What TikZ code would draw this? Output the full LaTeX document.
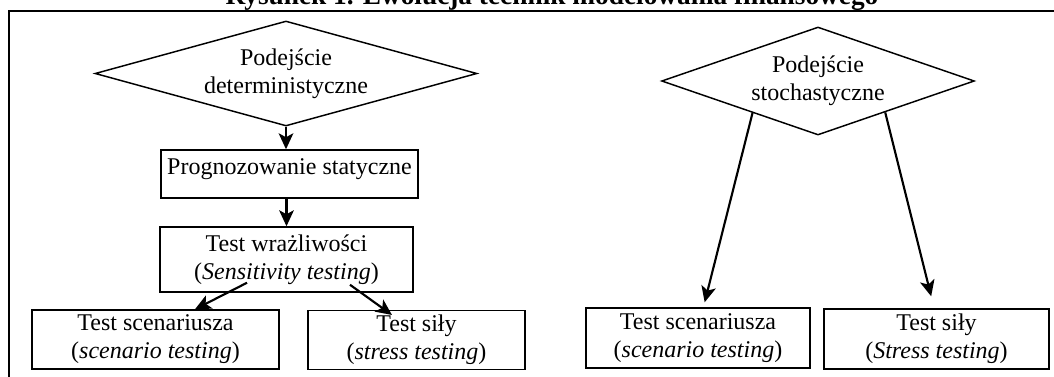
\documentclass[tikz,border=0pt]{standalone}
\usepackage{fontspec}
\setmainfont{Liberation Serif}
\usetikzlibrary{shapes.geometric,arrows.meta}

\begin{document}
\begin{tikzpicture}[x=0.75pt,y=-0.75pt,
    font=\fontsize{18}{21}\selectfont]

      \useasboundingbox (0,0) rectangle (1054,376);
      \clip (0,0) rectangle (1054,376);

      % title and frame
      \node[anchor=base, font=\fontsize{20.5}{24}\selectfont\bfseries] (0) at (552,4.5)
        {Rysunek 1. Ewolucja technik modelowania finansowego};
      \draw[line width=1.5pt] (9,11) rectangle (1070,400);

      \begin{scope}[every node/.style={diamond, draw, line width=1.1pt, inner sep=0pt, align=center, aspect=3.6}]
        \node[minimum width=286.5pt, minimum height=78.75pt] (1) at (286,73.5)
          {Podejście\\deterministyczne};
        \node[minimum width=232.5pt, minimum height=81pt] (2) at (818,81)
          {Podejście\\stochastyczne};
      \end{scope}

      \begin{scope}[every node/.style={rectangle, draw, line width=1.1pt, align=center}]
        \node[minimum width=192.75pt, text height=12pt, text depth=12pt, inner ysep=6pt] (3) at (289.5,174)
          {Prognozowanie statyczne};
        \node[minimum width=189.75pt, minimum height=48.75pt] (4) at (286.5,259.5)
          {Test wrażliwości\\(\textit{Sensitivity testing})};
        \node[minimum width=185.25pt, minimum height=44.25pt] (5) at (155.5,339.5)
          {Test scenariusza\\(\textit{scenario testing})};
        \node[minimum width=162.75pt, minimum height=42pt] (6) at (416.5,340)
          {Test siły\\(\textit{stress testing})};
        \node[minimum width=168pt, minimum height=45pt] (7) at (698,338)
          {Test scenariusza\\(\textit{scenario testing})};
        \node[minimum width=168.75pt, minimum height=45pt] (8) at (936.5,339)
          {Test siły\\(\textit{Stress testing})};
      \end{scope}

      \begin{scope}[every edge/.style={draw, line width=1.6pt, -{Stealth[length=12pt,width=11pt,inset=3pt]}}]
        \path (1.south) edge (1.south |- 3.north);
        \path (4.north |- 3.south) edge (4.north);
        \path ([xshift=-29.6pt, yshift=7.5pt]4.south) edge ([xshift=29.6pt]5.north);
        \path ([xshift=47.6pt, yshift=6pt]4.south) edge ([xshift=-18.4pt, yshift=-3.75pt]6.north);
        \path (2.206) edge ([xshift=5pt, yshift=3.75pt]7.north);
        \path (2.335) edge ([xshift=-4pt, yshift=9pt]8.north);
      \end{scope}

    \end{tikzpicture}
\end{document}
